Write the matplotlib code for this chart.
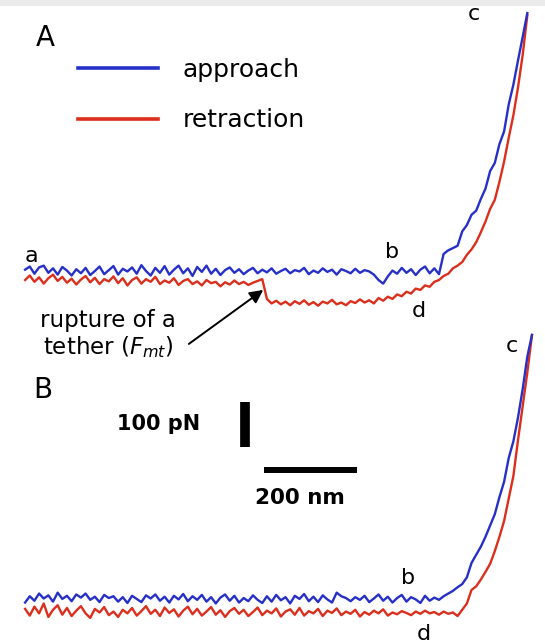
import numpy as np
import matplotlib.pyplot as plt
from matplotlib.patches import Rectangle

# distance grid (nm) and force traces (pN), panel A
dist_a = np.arange(0, 1081, 10)
approach_a = [
    5, 12, -4, 10, 14, -2, 8, -6, 11, 3,
    -8, 6, -3, 9, -7, 2, 12, -5, 4, 13,
    -6, 7, 1, 10, -4, 15, 2, -8, 9, -2,
    13, -6, 5, 14, -3, 8, -9, 11, 0, 14,
    -4, 7, -7, 4, 10, -2, 6, -5, 3, 9,
    -3, 5, -1, 8, -4, 2, 7, -3, 4, 1,
    9, -5, 3, -2, 8, 0, 5, -6, 6, 2,
    -3, 7, -2, 4, 1, -6, -18, -26, -10, 3,
    -4, 9, -2, 6, -7, 5, 12, -3, 8, -5,
    40, 48, 53, 58, 90, 104, 127, 136, 162, 185,
    224, 242, 284, 312, 372, 416, 470, 522, 575,
]
retraction_a = [
    -18, -8, -22, -12, -26, -14, -6, -20, -11, -24,
    -15, -28, -17, -9, -23, -13, -27, -16, -21, -10,
    -25, -14, -30, -18, -12, -26, -16, -22, -11, -27,
    -19, -24, -14, -29, -20, -16, -27, -21, -30, -18,
    -25, -22, -32, -23, -28, -19, -27, -22, -29, -24,
    -20, -16, -60, -70, -64, -72, -66, -74, -65, -71,
    -63, -73, -67, -75, -66, -70, -62, -72, -68, -74,
    -65, -69, -61, -68, -63, -70, -58, -64, -55, -60,
    -50, -54, -44, -48, -37, -40, -30, -33, -22, -18,
    -9, -4, 8, 14, 22, 38, 50, 66, 88, 112,
    140, 160, 200, 245, 298, 348, 410, 482, 570,
]

# panel B
dist_b = np.arange(0, 1091, 10)
approach_b = [
    -6, 8, -2, 14, 3, 10, -4, 16, 2, 9,
    -3, 12, 5, 14, 0, 7, -5, 11, 4, 8,
    -4, 6, -7, 9, 2, -5, 10, 3, 12, -2,
    7, -6, 9, 1, 13, -3, 8, 0, 11, -4,
    6, -8, 5, 12, -2, 9, -6, 4, -3, 10,
    0, -7, 8, -4, 11, -1, 6, -8, 9, 2,
    13, -3, 7, -5, 10, 1, -6, 16, 8, 4,
    -3, 6, 0, 9, -5, 3, 12, -2, 7, -6,
    4, 11, -4, 6, 1, -7, 9, -2, 5, 0,
    8, 14, 20, 28, 35, 50, 82, 100, 118, 140,
    165, 190, 228, 262, 315, 352, 405, 468, 540, 588,
]
retraction_b = [
    -20, -35, -15, -30, -8, -38, -22, -12, -33, -18,
    -36, -24, -14, -30, -40, -20, -28, -16, -34, -26,
    -38, -22, -30, -18, -35, -25, -14, -31, -22, -36,
    -17, -29, -21, -37, -24, -15, -32, -20, -35, -26,
    -16, -33, -23, -38, -25, -18, -31, -22, -36, -27,
    -17, -34, -24, -30, -19, -37, -26, -21, -33, -18,
    -35, -25, -30, -20, -36, -24, -29, -19, -34, -26,
    -31, -22, -37, -27, -33, -24, -30, -21, -35, -28,
    -32, -25, -29, -34, -26, -31, -24, -30, -27, -33,
    -26, -31, -28, -36, -22, -8, 22, 30, 45, 62,
    80, 108, 140, 175, 225, 275, 355, 430, 505, 588,
]

BLUE = '#2630c8'
RED = '#dc2e1c'

plt.rcParams['font.family'] = ['DejaVu Sans']

fig = plt.figure(figsize=(5.45, 6.44), dpi=100)
fig.add_artist(Rectangle((0, 1 - 6 / 644), 1, 6 / 644, transform=fig.transFigure,
                         color='#ebebeb', lw=0))

ax_a = fig.add_axes([0, 314 / 644, 1, 330 / 644])
ax_b = fig.add_axes([0, 0, 1, 314 / 644])
for ax in (ax_a, ax_b):
    ax.set_facecolor('none')
    ax.set_axis_off()
    ax.set_xlim(-54, 1118)
ax_a.set_ylim(-129, 604)
ax_b.set_ylim(-98, 599)

# A -----------------------------------------------------------------------
ax_a.plot(dist_a, retraction_a, color=RED, lw=1.7, label='retraction')
ax_a.plot(dist_a, approach_a, color=BLUE, lw=1.7, label='approach')

handles, labels = ax_a.get_legend_handles_labels()
leg = ax_a.legend(handles[::-1], labels[::-1], loc='upper left',
                  bbox_to_anchor=(78 / 545, 1 - 58 / 644), bbox_transform=fig.transFigure,
                  frameon=False, borderpad=0, borderaxespad=0, fontsize=18,
                  handlelength=3.2, handletextpad=1.0, labelspacing=1.05)
for line in leg.get_lines():
    line.set_linewidth(2.6)

ax_a.text(43, 519, 'A', fontsize=20, ha='center', va='center')
ax_a.text(13, 36, 'a', fontsize=16, ha='center', va='center')
ax_a.text(789, 44, 'b', fontsize=16, ha='center', va='center')
ax_a.text(847, -87, 'd', fontsize=16, ha='center', va='center')
ax_a.text(965, 573, 'c', fontsize=16, ha='center', va='center')

ax_a.text(32, -109, 'rupture of a', fontsize=16.5, ha='left', va='center')
ax_a.text(39, -166, r'tether ($F_{mt}$)', fontsize=16.5, ha='left', va='center')
ax_a.annotate('', xy=(512, -40), xytext=(352, -160), annotation_clip=False,
              arrowprops=dict(arrowstyle='-|>', color='black', lw=1.4,
                              mutation_scale=20, shrinkA=0, shrinkB=0))

# B -----------------------------------------------------------------------
ax_b.plot(dist_b, retraction_b, color=RED, lw=1.7)
ax_b.plot(dist_b, approach_b, color=BLUE, lw=1.7)

ax_b.text(37, 466, 'B', fontsize=20, ha='center', va='center')
ax_b.text(1047, 564, 'c', fontsize=16, ha='center', va='center')
ax_b.text(823, 49, 'b', fontsize=16, ha='center', va='center')
ax_b.text(858, -75, 'd', fontsize=16, ha='center', va='center')

# scale bars: 100 pN and 200 nm
ax_b.plot([473, 473], [340, 440], color='black', lw=7, solid_capstyle='butt')
ax_b.plot([514, 714], [289, 289], color='black', lw=4.3, solid_capstyle='butt')
ax_b.text(286, 391, '100 pN', fontsize=15, fontweight='bold', ha='center', va='center')
ax_b.text(591, 226, '200 nm', fontsize=15.5, fontweight='bold', ha='center', va='center')

fig.savefig('out.png', dpi=100, facecolor='white')
